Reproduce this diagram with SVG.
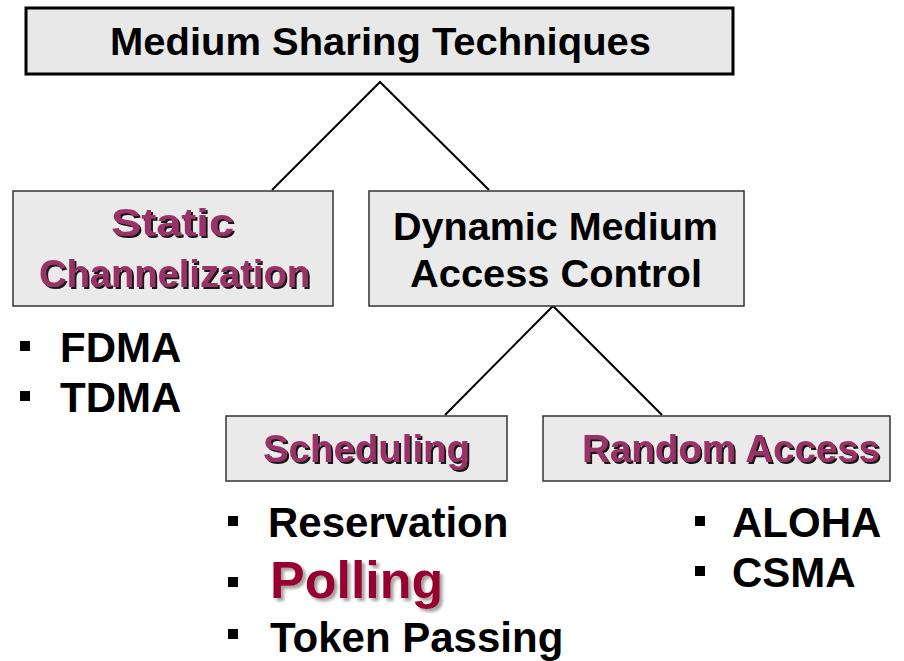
<svg xmlns="http://www.w3.org/2000/svg" width="904" height="661" viewBox="0 0 904 661">
<style>
.box{fill:#eaeaea;stroke:#333;stroke-width:1.5}
.top{fill:#e8e8e8;stroke:#000;stroke-width:3}
.bt{font-family:"Liberation Sans",Arial,sans-serif;font-weight:bold;font-size:39px}
.blk{fill:#000}
.pur{fill:#993366;filter:url(#sh)}
.li{font-family:"Liberation Sans",Arial,sans-serif;font-weight:bold;font-size:42px;fill:#000}
.pol{font-size:52px;fill:#990033;filter:url(#sh2)}
.bul{fill:#000}
.con{stroke:#000;stroke-width:2;fill:none}
</style>
<defs>
<filter id="sh" x="-10%" y="-20%" width="120%" height="150%">
<feDropShadow dx="2" dy="2" stdDeviation="0.4" flood-color="#000" flood-opacity="0.9"/>
</filter>
<filter id="sh2" x="-10%" y="-20%" width="120%" height="150%">
<feDropShadow dx="3" dy="3" stdDeviation="1.5" flood-color="#666" flood-opacity="0.6"/>
</filter>
</defs>
<rect width="904" height="661" fill="#fff"/>
<g id="connectors">
<polyline class="con" points="272,190 380,82 489,190"/>
<polyline class="con" points="445,415 553,306 662,415"/>
</g>
<g id="n-medium">
<rect class="top" x="26" y="8" width="707" height="66"/>
<text class="bt blk" x="110" y="55" textLength="541" lengthAdjust="spacingAndGlyphs">Medium Sharing Techniques</text>
</g>
<g id="n-static">
<rect class="box" x="13" y="191" width="320" height="115"/>
<text class="bt pur" x="111" y="236" textLength="123" lengthAdjust="spacingAndGlyphs">Static</text>
<text class="bt pur" x="39" y="287" textLength="271" lengthAdjust="spacingAndGlyphs">Channelization</text>
</g>
<g id="n-dynamic">
<rect class="box" x="369" y="191" width="375" height="115"/>
<text class="bt blk" x="393" y="240" textLength="325" lengthAdjust="spacingAndGlyphs">Dynamic Medium</text>
<text class="bt blk" x="410" y="287" textLength="292" lengthAdjust="spacingAndGlyphs">Access Control</text>
</g>
<g id="n-scheduling">
<rect class="box" x="226" y="416" width="281" height="65"/>
<text class="bt pur" x="263" y="462" textLength="207" lengthAdjust="spacingAndGlyphs">Scheduling</text>
</g>
<g id="n-random">
<rect class="box" x="543" y="416" width="347" height="65"/>
<text class="bt pur" x="582" y="462" textLength="298" lengthAdjust="spacingAndGlyphs">Random Access</text>
</g>
<g id="list-static">
<rect class="bul" x="20" y="341" width="10" height="10"/>
<text class="li" x="60" y="362">FDMA</text>
<rect class="bul" x="20" y="391" width="10" height="10"/>
<text class="li" x="60" y="412">TDMA</text>
</g>
<g id="list-scheduling">
<rect class="bul" x="228" y="516" width="10" height="10"/>
<text class="li" x="268" y="537">Reservation</text>
<rect class="bul" x="228" y="577" width="10" height="10"/>
<text class="li pol" x="270" y="598">Polling</text>
<rect class="bul" x="228" y="629" width="10" height="10"/>
<text class="li" x="270" y="652">Token Passing</text>
</g>
<g id="list-random">
<rect class="bul" x="695" y="516" width="10" height="10"/>
<text class="li" x="732" y="537">ALOHA</text>
<rect class="bul" x="695" y="566" width="10" height="10"/>
<text class="li" x="732" y="587">CSMA</text>
</g>
</svg>
